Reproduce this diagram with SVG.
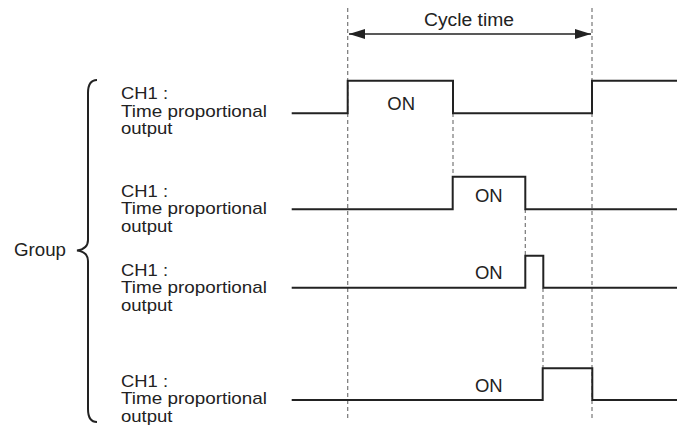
<svg xmlns="http://www.w3.org/2000/svg" width="677" height="425" viewBox="0 0 677 425">
<style>
text{font-family:"Liberation Sans",Arial,sans-serif;font-size:18px;fill:#222}
.l{font-size:17px}
.w{fill:none;stroke:#222;stroke-width:2}
.d{fill:none;stroke:#777;stroke-width:1.2;stroke-dasharray:4 3}
.a{fill:none;stroke:#222;stroke-width:1.6}
</style>
<defs>
<marker id="ah" viewBox="0 0 16 10" refX="16" refY="5" markerWidth="16" markerHeight="10" markerUnits="userSpaceOnUse" orient="auto-start-reverse">
<path d="M0,0 L16,5 L0,10 Z" fill="#222"/>
</marker>
</defs>
<rect width="677" height="425" fill="#fff"/>
<g id="guides">
<line class="d" x1="347.7" y1="8" x2="347.7" y2="420"/>
<line class="d" x1="592" y1="8" x2="592" y2="420"/>
<line class="d" x1="453" y1="113" x2="453" y2="177"/>
<line class="d" x1="525.3" y1="209" x2="525.3" y2="256"/>
<line class="d" x1="543" y1="288" x2="543" y2="368"/>
</g>
<g id="cycle-time">
<line class="a" x1="349" y1="34" x2="591" y2="34" marker-start="url(#ah)" marker-end="url(#ah)"/>
<text x="424" y="26" textLength="90" lengthAdjust="spacingAndGlyphs">Cycle time</text>
</g>
<g id="group">
<path class="w" d="M97,80 Q88,80 88,93 L88,240 Q88,249 77,250.5 Q88,252 88,261 L88,409 Q88,422 97,422"/>
<text x="14" y="256" textLength="52" lengthAdjust="spacingAndGlyphs">Group</text>
</g>
<g id="ch1-a">
<text class="l" x="121" y="99" textLength="47" lengthAdjust="spacingAndGlyphs">CH1 :</text>
<text class="l" x="121" y="116.5" textLength="146" lengthAdjust="spacingAndGlyphs">Time proportional</text>
<text class="l" x="121" y="134" textLength="51.5" lengthAdjust="spacingAndGlyphs">output</text>
<polyline class="w" points="291.7,113.3 347.7,113.3 347.7,80.7 453,80.7 453,113.3 592,113.3 592,80.7 677,80.7"/>
<text x="387.3" y="110" textLength="27.7" lengthAdjust="spacingAndGlyphs">ON</text>
</g>
<g id="ch1-b">
<text class="l" x="121" y="196.7" textLength="47" lengthAdjust="spacingAndGlyphs">CH1 :</text>
<text class="l" x="121" y="214.2" textLength="146" lengthAdjust="spacingAndGlyphs">Time proportional</text>
<text class="l" x="121" y="231.7" textLength="51.5" lengthAdjust="spacingAndGlyphs">output</text>
<polyline class="w" points="291.7,209.3 452.7,209.3 452.7,176.7 525.3,176.7 525.3,209.3 677,209.3"/>
<text x="475" y="201.7" textLength="27.7" lengthAdjust="spacingAndGlyphs">ON</text>
</g>
<g id="ch1-c">
<text class="l" x="121" y="275.7" textLength="47" lengthAdjust="spacingAndGlyphs">CH1 :</text>
<text class="l" x="121" y="293.2" textLength="146" lengthAdjust="spacingAndGlyphs">Time proportional</text>
<text class="l" x="121" y="310.7" textLength="51.5" lengthAdjust="spacingAndGlyphs">output</text>
<polyline class="w" points="291.7,287.7 525.3,287.7 525.3,255.7 543.3,255.7 543.3,287.7 677,287.7"/>
<text x="475" y="279.3" textLength="27.7" lengthAdjust="spacingAndGlyphs">ON</text>
</g>
<g id="ch1-d">
<text class="l" x="121" y="386.7" textLength="47" lengthAdjust="spacingAndGlyphs">CH1 :</text>
<text class="l" x="121" y="404.2" textLength="146" lengthAdjust="spacingAndGlyphs">Time proportional</text>
<text class="l" x="121" y="421.7" textLength="51.5" lengthAdjust="spacingAndGlyphs">output</text>
<polyline class="w" points="291.7,400 542.7,400 542.7,368.3 592.3,368.3 592.3,400 677,400"/>
<text x="475" y="392.3" textLength="27.7" lengthAdjust="spacingAndGlyphs">ON</text>
</g>
</svg>
